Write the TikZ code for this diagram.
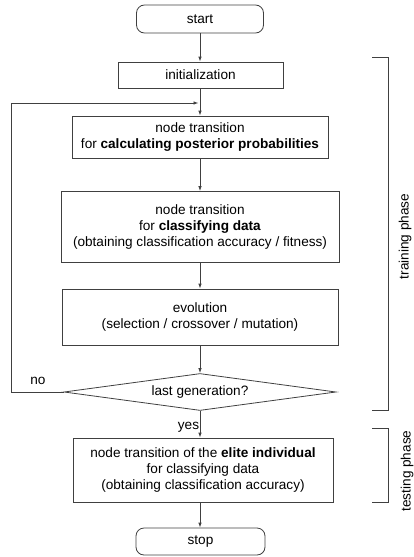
\documentclass[tikz,border=0pt]{standalone}
\usepackage{fontspec}
\setmainfont{Liberation Sans}
\usetikzlibrary{shapes.geometric,arrows.meta}
\definecolor{ln}{rgb}{0.25,0.25,0.25}
\begin{document}
\begin{tikzpicture}[x=1pt,y=-1pt,
  every node/.style={font=\fontsize{13.6}{16.3}\selectfont, text=black, align=center},
  stepbox/.style={draw=ln, line width=0.8pt, inner sep=0pt},
  termbox/.style={stepbox, rounded corners=8pt},
  decbox/.style={draw=ln, line width=0.8pt, diamond, inner sep=0pt, aspect=7.3},
  arr/.style={draw=ln, line width=0.8pt, -{Latex[length=5pt,width=3.5pt]}},
  br/.style={draw=ln, line width=0.8pt},
  lbl/.style={inner sep=0pt}]
\useasboundingbox (0,0) rectangle (414,557);

\node[termbox, minimum width=127pt, minimum height=28pt] (start) at (200,19) {start};
\node[stepbox, minimum width=165pt, minimum height=26pt] (init) at (200.5,75) {initialization};
\node[stepbox, minimum width=256pt, minimum height=42pt] (tr1) at (200,137) {node transition\\for \textbf{calculating posterior probabilities}};
\node[stepbox, minimum width=278pt, minimum height=71pt] (tr2) at (200,227) {node transition\\for \textbf{classifying data}\\(obtaining classification accuracy / fitness)};
\node[stepbox, minimum width=276pt, minimum height=56pt] (evo) at (200,317) {evolution\\(selection / crossover / mutation)};
\node[decbox, minimum width=272pt, minimum height=37pt] (dec) at (200,392) {last generation?};
\node[stepbox, minimum width=260pt, minimum height=64pt] (elite) at (203,470) {node transition of the \textbf{elite individual}\\for classifying data\\(obtaining classification accuracy)};
\node[termbox, minimum width=129pt, minimum height=27pt] (stop) at (200.5,541.5) {stop};

\coordinate (junc) at (200,103);
\coordinate (lcorner) at (11,103);

\draw[arr] (start.south -| 200,0) -- (init.north -| 200,0);
\draw[arr] (init.south -| 200,0) -- (tr1.north -| 200,0);
\draw[arr] (tr1.south -| 200,0) -- (tr2.north -| 200,0);
\draw[arr] (tr2.south -| 200,0) -- (evo.north -| 200,0);
\draw[arr] (evo.south -| 200,0) -- (dec.north);
\draw[arr] (dec.south) -- (dec.south |- elite.north);
\draw[arr] (elite.south -| 200,0) -- (stop.north -| 200,0);
\draw[arr, shorten >=1.5pt] (dec.west) -| (lcorner) -- (junc);

\node[lbl] (no) at (38,381) {no};
\node[lbl] (yes) at (188.5,427) {yes};

\draw[br] (372,57) -- (388,57) -- (388,410) -- (372,410);
\draw[br] (372,428) -- (388,428) -- (388,502) -- (372,502);
\node[lbl, rotate=90] (train) at (405,236.5) {training phase};
\node[lbl, rotate=90] (test) at (407,471) {testing phase};
\end{tikzpicture}
\end{document}
